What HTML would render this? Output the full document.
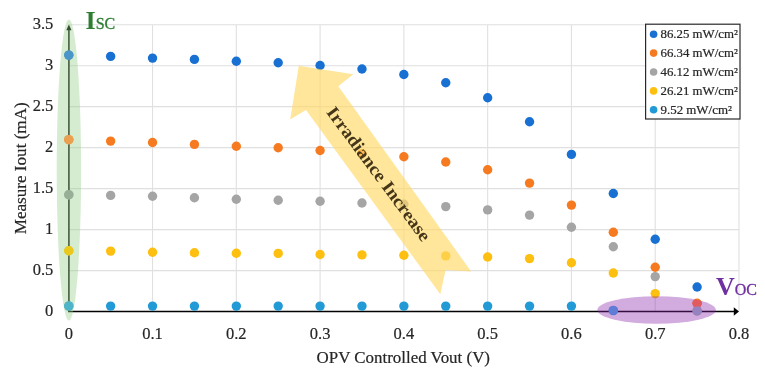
<!DOCTYPE html><html><head><meta charset="utf-8"><style>html,body{margin:0;padding:0;background:#fff;}svg{display:block;will-change:transform;opacity:0.999;}text{font-family:"Liberation Serif",serif;}.t{stroke:#262626;stroke-width:0.2px;}</style></head><body>
<svg width="765" height="377" viewBox="0 0 765 377">
<rect width="765" height="377" fill="#fff"/>
<path d="M68.75 24.70H739.6 M68.75 65.68H739.6 M68.75 106.66H739.6 M68.75 147.64H739.6 M68.75 188.62H739.6 M68.75 229.60H739.6 M68.75 270.58H739.6 M152.53 24.7V311.50 M236.31 24.7V311.50 M320.09 24.7V311.50 M403.87 24.7V311.50 M487.65 24.7V311.50 M571.43 24.7V311.50 M655.21 24.7V311.50 M738.99 24.7V311.50" stroke="#e0e0e0" stroke-width="1.1" fill="none"/>
<text x="53.3" y="29.0" font-size="16.5" text-anchor="end" fill="#262626" class="t">3.5</text>
<text x="53.3" y="70.0" font-size="16.5" text-anchor="end" fill="#262626" class="t">3</text>
<text x="53.3" y="111.0" font-size="16.5" text-anchor="end" fill="#262626" class="t">2.5</text>
<text x="53.3" y="151.9" font-size="16.5" text-anchor="end" fill="#262626" class="t">2</text>
<text x="53.3" y="192.9" font-size="16.5" text-anchor="end" fill="#262626" class="t">1.5</text>
<text x="53.3" y="233.9" font-size="16.5" text-anchor="end" fill="#262626" class="t">1</text>
<text x="53.3" y="274.9" font-size="16.5" text-anchor="end" fill="#262626" class="t">0.5</text>
<text x="53.3" y="315.9" font-size="16.5" text-anchor="end" fill="#262626" class="t">0</text>
<text x="68.8" y="339.2" font-size="16.5" text-anchor="middle" fill="#262626" class="t">0</text>
<text x="152.5" y="339.2" font-size="16.5" text-anchor="middle" fill="#262626" class="t">0.1</text>
<text x="236.3" y="339.2" font-size="16.5" text-anchor="middle" fill="#262626" class="t">0.2</text>
<text x="320.1" y="339.2" font-size="16.5" text-anchor="middle" fill="#262626" class="t">0.3</text>
<text x="403.9" y="339.2" font-size="16.5" text-anchor="middle" fill="#262626" class="t">0.4</text>
<text x="487.6" y="339.2" font-size="16.5" text-anchor="middle" fill="#262626" class="t">0.5</text>
<text x="571.4" y="339.2" font-size="16.5" text-anchor="middle" fill="#262626" class="t">0.6</text>
<text x="655.2" y="339.2" font-size="16.5" text-anchor="middle" fill="#262626" class="t">0.7</text>
<text x="739.0" y="339.2" font-size="16.5" text-anchor="middle" fill="#262626" class="t">0.8</text>
<text x="316.5" y="363" font-size="16.5" textLength="173.5" lengthAdjust="spacingAndGlyphs" fill="#262626" class="t">OPV Controlled Vout (V)</text>
<text transform="translate(25.9 234.3) rotate(-90)" x="0" y="0" font-size="16.5" textLength="132" lengthAdjust="spacingAndGlyphs" fill="#262626" class="t">Measure Iout (mA)</text>
<path d="M68 311.5H734" stroke="#000" stroke-width="1.5"/>
<path d="M733.8 307.3L739 311.5L733.8 315.7Z" fill="#000"/>
<path d="M68.9 311.5V29.5" stroke="#222" stroke-width="1.7"/>
<path d="M66.3 30.2L68.9 24.6L71.5 30.2Z" fill="#000"/>
<circle cx="68.75" cy="306.10" r="4.7" fill="#229ad6"/>
<circle cx="110.64" cy="306.10" r="4.7" fill="#229ad6"/>
<circle cx="152.53" cy="306.10" r="4.7" fill="#229ad6"/>
<circle cx="194.42" cy="306.10" r="4.7" fill="#229ad6"/>
<circle cx="236.31" cy="306.10" r="4.7" fill="#229ad6"/>
<circle cx="278.20" cy="306.10" r="4.7" fill="#229ad6"/>
<circle cx="320.09" cy="306.10" r="4.7" fill="#229ad6"/>
<circle cx="361.98" cy="306.10" r="4.7" fill="#229ad6"/>
<circle cx="403.87" cy="306.10" r="4.7" fill="#229ad6"/>
<circle cx="445.76" cy="306.10" r="4.7" fill="#229ad6"/>
<circle cx="487.65" cy="306.10" r="4.7" fill="#229ad6"/>
<circle cx="529.54" cy="306.10" r="4.7" fill="#229ad6"/>
<circle cx="571.43" cy="306.10" r="4.7" fill="#229ad6"/>
<circle cx="613.32" cy="310.60" r="4.7" fill="#229ad6"/>
<circle cx="68.75" cy="250.70" r="4.7" fill="#fdbf10"/>
<circle cx="110.64" cy="251.10" r="4.7" fill="#fdbf10"/>
<circle cx="152.53" cy="252.20" r="4.7" fill="#fdbf10"/>
<circle cx="194.42" cy="252.80" r="4.7" fill="#fdbf10"/>
<circle cx="236.31" cy="253.20" r="4.7" fill="#fdbf10"/>
<circle cx="278.20" cy="253.40" r="4.7" fill="#fdbf10"/>
<circle cx="320.09" cy="254.50" r="4.7" fill="#fdbf10"/>
<circle cx="361.98" cy="254.90" r="4.7" fill="#fdbf10"/>
<circle cx="403.87" cy="255.30" r="4.7" fill="#fdbf10"/>
<circle cx="445.76" cy="255.90" r="4.7" fill="#fdbf10"/>
<circle cx="487.65" cy="257.00" r="4.7" fill="#fdbf10"/>
<circle cx="529.54" cy="258.60" r="4.7" fill="#fdbf10"/>
<circle cx="571.43" cy="262.80" r="4.7" fill="#fdbf10"/>
<circle cx="613.32" cy="273.00" r="4.7" fill="#fdbf10"/>
<circle cx="655.21" cy="293.60" r="4.7" fill="#fdbf10"/>
<circle cx="68.75" cy="194.70" r="4.7" fill="#a5a5a5"/>
<circle cx="110.64" cy="195.40" r="4.7" fill="#a5a5a5"/>
<circle cx="152.53" cy="196.30" r="4.7" fill="#a5a5a5"/>
<circle cx="194.42" cy="197.80" r="4.7" fill="#a5a5a5"/>
<circle cx="236.31" cy="199.20" r="4.7" fill="#a5a5a5"/>
<circle cx="278.20" cy="200.30" r="4.7" fill="#a5a5a5"/>
<circle cx="320.09" cy="201.30" r="4.7" fill="#a5a5a5"/>
<circle cx="361.98" cy="203.00" r="4.7" fill="#a5a5a5"/>
<circle cx="403.87" cy="204.20" r="4.7" fill="#a5a5a5"/>
<circle cx="445.76" cy="206.60" r="4.7" fill="#a5a5a5"/>
<circle cx="487.65" cy="209.90" r="4.7" fill="#a5a5a5"/>
<circle cx="529.54" cy="215.10" r="4.7" fill="#a5a5a5"/>
<circle cx="571.43" cy="227.20" r="4.7" fill="#a5a5a5"/>
<circle cx="613.32" cy="246.70" r="4.7" fill="#a5a5a5"/>
<circle cx="655.21" cy="276.60" r="4.7" fill="#a5a5a5"/>
<circle cx="697.10" cy="310.90" r="4.7" fill="#a5a5a5"/>
<circle cx="68.75" cy="139.60" r="4.7" fill="#f67b20"/>
<circle cx="110.64" cy="141.10" r="4.7" fill="#f67b20"/>
<circle cx="152.53" cy="142.50" r="4.7" fill="#f67b20"/>
<circle cx="194.42" cy="144.40" r="4.7" fill="#f67b20"/>
<circle cx="236.31" cy="146.20" r="4.7" fill="#f67b20"/>
<circle cx="278.20" cy="147.70" r="4.7" fill="#f67b20"/>
<circle cx="320.09" cy="150.50" r="4.7" fill="#f67b20"/>
<circle cx="361.98" cy="153.60" r="4.7" fill="#f67b20"/>
<circle cx="403.87" cy="156.70" r="4.7" fill="#f67b20"/>
<circle cx="445.76" cy="162.00" r="4.7" fill="#f67b20"/>
<circle cx="487.65" cy="169.70" r="4.7" fill="#f67b20"/>
<circle cx="529.54" cy="183.10" r="4.7" fill="#f67b20"/>
<circle cx="571.43" cy="205.10" r="4.7" fill="#f67b20"/>
<circle cx="613.32" cy="232.20" r="4.7" fill="#f67b20"/>
<circle cx="655.21" cy="267.30" r="4.7" fill="#f67b20"/>
<circle cx="697.10" cy="303.20" r="4.7" fill="#f67b20"/>
<circle cx="68.75" cy="55.10" r="4.7" fill="#1871d2"/>
<circle cx="110.64" cy="56.40" r="4.7" fill="#1871d2"/>
<circle cx="152.53" cy="58.10" r="4.7" fill="#1871d2"/>
<circle cx="194.42" cy="59.40" r="4.7" fill="#1871d2"/>
<circle cx="236.31" cy="61.20" r="4.7" fill="#1871d2"/>
<circle cx="278.20" cy="62.70" r="4.7" fill="#1871d2"/>
<circle cx="320.09" cy="65.50" r="4.7" fill="#1871d2"/>
<circle cx="361.98" cy="69.00" r="4.7" fill="#1871d2"/>
<circle cx="403.87" cy="74.50" r="4.7" fill="#1871d2"/>
<circle cx="445.76" cy="82.80" r="4.7" fill="#1871d2"/>
<circle cx="487.65" cy="97.80" r="4.7" fill="#1871d2"/>
<circle cx="529.54" cy="121.70" r="4.7" fill="#1871d2"/>
<circle cx="571.43" cy="154.40" r="4.7" fill="#1871d2"/>
<circle cx="613.32" cy="193.50" r="4.7" fill="#1871d2"/>
<circle cx="655.21" cy="239.30" r="4.7" fill="#1871d2"/>
<circle cx="697.10" cy="287.00" r="4.7" fill="#1871d2"/>
<ellipse cx="68.9" cy="170" rx="12.2" ry="150.6" fill="#93ce87" fill-opacity="0.39"/>
<circle cx="68.85" cy="55.1" r="4.7" fill="#4b96c8"/>
<circle cx="68.85" cy="139.8" r="4.7" fill="#eba050"/>
<circle cx="68.85" cy="194.8" r="4.7" fill="#96af96"/>
<circle cx="68.85" cy="250.7" r="4.7" fill="#ebc81e"/>
<circle cx="68.85" cy="305.9" r="4.7" fill="#50b4c8"/>
<ellipse cx="656.6" cy="310" rx="59.3" ry="13.7" fill="#8822ac" fill-opacity="0.38"/>
<clipPath id="pc"><ellipse cx="656.6" cy="310" rx="59.3" ry="13.7"/></clipPath><g clip-path="url(#pc)">
<circle cx="613.3" cy="310.4" r="4.7" fill="#5f7dd7"/>
<circle cx="697.1" cy="303.2" r="4.7" fill="#e15a5f"/>
<circle cx="697.1" cy="310.9" r="4.7" fill="#9682be"/>
</g>
<polygon points="298.8,65.8 353.3,74.2 338.3,86.3 471.1,271.4 445.6,269.9 440.3,294.3 306.0,109.9 290.2,119.4" fill="#ffd966" fill-opacity="0.65"/>
<text transform="translate(325.8 112.3) rotate(53.5)" font-size="18" font-weight="bold" textLength="162" lengthAdjust="spacingAndGlyphs" fill="#45361a">Irradiance Increase</text>
<text x="85.6" y="28.7" fill="#2e7d32" font-size="26" font-weight="bold">I<tspan font-size="16" font-weight="normal" stroke="#2e7d32" stroke-width="0.3">SC</tspan></text>
<text x="716" y="295.4" fill="#7030a0" font-size="26" font-weight="bold">V<tspan font-size="16" font-weight="normal" stroke="#7030a0" stroke-width="0.3">OC</tspan></text>
<rect x="645.6" y="24.2" width="94.4" height="94.8" fill="#fff" stroke="#2a2a2a" stroke-width="1.2"/>
<circle cx="653.6" cy="34.2" r="3.8" fill="#1871d2"/>
<text x="660.5" y="38.1" font-size="11.6" textLength="77.3" lengthAdjust="spacingAndGlyphs" fill="#262626" stroke="#262626" stroke-width="0.2">86.25 mW/cm²</text>
<circle cx="653.6" cy="53.1" r="3.8" fill="#f67b20"/>
<text x="660.5" y="57.0" font-size="11.6" textLength="77.3" lengthAdjust="spacingAndGlyphs" fill="#262626" stroke="#262626" stroke-width="0.2">66.34 mW/cm²</text>
<circle cx="653.6" cy="72.0" r="3.8" fill="#a5a5a5"/>
<text x="660.5" y="75.9" font-size="11.6" textLength="77.3" lengthAdjust="spacingAndGlyphs" fill="#262626" stroke="#262626" stroke-width="0.2">46.12 mW/cm²</text>
<circle cx="653.6" cy="90.9" r="3.8" fill="#fdbf10"/>
<text x="660.5" y="94.8" font-size="11.6" textLength="77.3" lengthAdjust="spacingAndGlyphs" fill="#262626" stroke="#262626" stroke-width="0.2">26.21 mW/cm²</text>
<circle cx="653.6" cy="109.8" r="3.8" fill="#229ad6"/>
<text x="660.5" y="113.7" font-size="11.6" textLength="71.3" lengthAdjust="spacingAndGlyphs" fill="#262626" stroke="#262626" stroke-width="0.2">9.52 mW/cm²</text>
</svg></body></html>
